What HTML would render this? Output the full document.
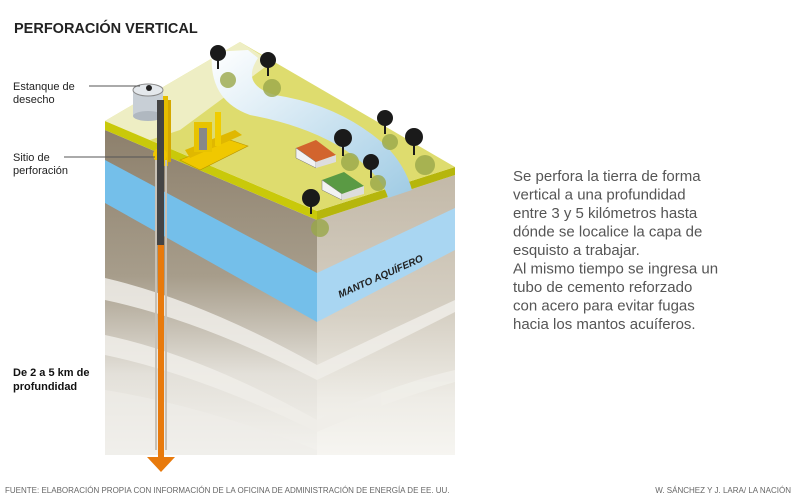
<!DOCTYPE html>
<html><head><meta charset="utf-8"><style>
body{margin:0;background:#fff;}
svg{display:block;font-family:"Liberation Sans",sans-serif;}
</style></head><body>
<svg width="797" height="504" viewBox="0 0 797 504" xmlns="http://www.w3.org/2000/svg">
<defs>
<linearGradient id="lf" x1="0" y1="0" x2="0" y2="1">
<stop offset="0" stop-color="#8d806c"/><stop offset="0.45" stop-color="#a79d8b"/><stop offset="0.75" stop-color="#e3e0d9"/><stop offset="1" stop-color="#f3f2ee"/></linearGradient>
<linearGradient id="rf" x1="0" y1="0" x2="0" y2="1">
<stop offset="0" stop-color="#c3b9a8"/><stop offset="0.5" stop-color="#d6d0c4"/><stop offset="0.8" stop-color="#eeece6"/><stop offset="1" stop-color="#f6f5f1"/></linearGradient>
<linearGradient id="riv" x1="0" y1="0" x2="1" y2="1">
<stop offset="0" stop-color="#ffffff"/><stop offset="1" stop-color="#9fcbe4"/></linearGradient>
</defs>
<text x="14" y="33" font-size="14.5" font-weight="bold" fill="#222">PERFORACIÓN VERTICAL</text>
<polygon points="105,130 317,220 317,455 105,455" fill="url(#lf)"/>
<polygon points="317,220 455,175 455,455 317,455" fill="url(#rf)"/>
<g fill="#f0eee9" opacity="0.85">
<path d="M105,278 Q200,300 317,365 L317,380 Q200,320 105,300Z"/>
<path d="M105,335 Q200,355 317,420 L317,432 Q200,375 105,355Z"/>
<path d="M105,390 Q200,405 317,450 L317,455 L105,455Z" opacity="0.7"/>
<path d="M317,365 Q390,330 455,300 L455,312 Q390,345 317,380Z"/>
<path d="M317,420 Q390,385 455,370 L455,382 Q390,400 317,432Z"/>
</g>
<polygon points="105,160 317,273 317,322 105,203" fill="#74bfea"/>
<polygon points="317,273 455,208 455,250 317,322" fill="#a9d6f2"/>
<text x="0" y="0" font-size="10" font-weight="bold" font-style="italic" fill="#222" transform="translate(340,298) rotate(-24)">MANTO AQUÍFERO</text>
<polygon points="105,121 317,211 317,220 105,130" fill="#c9c90a"/>
<polygon points="317,211 455,167 455,175 317,220" fill="#b6b60c"/>
<polygon points="105,121 240,42 455,167 317,211" fill="#dedc6e"/>
<polygon points="105,121 240,42 272,62 180,130 150,140" fill="#eeeec4"/>
<path d="M212,52 Q208,100 250,115 Q330,130 370,170 Q385,185 388,198 L412,190 Q405,165 385,145 Q340,105 275,95 Q240,85 258,58 L248,50Z" fill="url(#riv)"/>
<g fill="#9aa84a" opacity="0.8">
<circle cx="228" cy="80" r="8"/><circle cx="272" cy="88" r="9"/><circle cx="390" cy="142" r="8"/>
<circle cx="425" cy="165" r="10"/><circle cx="350" cy="162" r="9"/><circle cx="378" cy="183" r="8"/><circle cx="320" cy="228" r="9"/>
</g>
<g fill="#1a1a1a">
<circle cx="218" cy="53" r="8"/><rect x="217" y="55" width="2" height="14"/>
<circle cx="268" cy="60" r="8"/><rect x="267" y="62" width="2" height="14"/>
<circle cx="385" cy="118" r="8"/><rect x="384" y="120" width="2" height="14"/>
<circle cx="414" cy="137" r="9"/><rect x="413" y="139" width="2" height="16"/>
<circle cx="343" cy="138" r="9"/><rect x="342" y="140" width="2" height="16"/>
<circle cx="371" cy="162" r="8"/><rect x="370" y="164" width="2" height="14"/>
<circle cx="311" cy="198" r="9"/><rect x="310" y="200" width="2" height="14"/>
</g>
<polygon points="296,148 316,140 336,155 316,162" fill="#d2642d"/>
<polygon points="296,148 316,162 316,168 296,158" fill="#f2f2f2" stroke="#777" stroke-width="0.5"/>
<polygon points="316,162 336,155 336,162 316,168" fill="#ddd"/>
<polygon points="322,180 344,172 364,186 342,194" fill="#5a9a44"/>
<polygon points="322,180 342,194 342,200 322,190" fill="#f2f2f2" stroke="#777" stroke-width="0.5"/>
<polygon points="342,194 364,186 364,194 342,200" fill="#ddd"/>
<rect x="133" y="90" width="30" height="26" fill="#c8cfd6"/>
<ellipse cx="148" cy="90" rx="15" ry="6" fill="#e4e8ec" stroke="#888"/>
<ellipse cx="148" cy="116" rx="15" ry="5" fill="#b0b8c0"/>
<circle cx="149" cy="88" r="3" fill="#222"/>
<polygon points="180,160 230,140 248,146 200,170" fill="#f0c800" stroke="#b99500" stroke-width="0.6"/>
<polygon points="185,150 235,130 242,135 190,158" fill="#e0b800"/>
<rect x="194" y="122" width="18" height="30" fill="#e8c300"/>
<rect x="199" y="128" width="8" height="22" fill="#888"/>
<rect x="215" y="112" width="6" height="34" fill="#f0cc00"/>
<rect x="163" y="96" width="5" height="70" fill="#e5bd00"/>
<rect x="168" y="100" width="3" height="62" fill="#d4a800"/>
<circle cx="160" cy="155" r="7" fill="#f0c400"/>
<circle cx="161" cy="156" r="3" fill="#222"/>
<rect x="157" y="100" width="7" height="145" fill="#444"/>
<rect x="155" y="160" width="2" height="290" fill="#c7c0b5"/>
<rect x="165" y="160" width="2" height="290" fill="#c7c0b5"/>
<rect x="158" y="245" width="6" height="213" fill="#e87a0c"/>
<polygon points="147,457 175,457 161,472" fill="#e87a0c"/>
<line x1="89" y1="86" x2="140" y2="86" stroke="#555" stroke-width="1"/>
<line x1="64" y1="157" x2="155" y2="157" stroke="#555" stroke-width="1"/>
<g font-size="11" fill="#222">
<text x="13" y="90">Estanque de</text><text x="13" y="103">desecho</text>
<text x="13" y="161">Sitio de</text><text x="13" y="174">perforación</text>
</g>
<g font-size="11" font-weight="bold" fill="#111">
<text x="13" y="376">De 2 a 5 km de</text><text x="13" y="390">profundidad</text>
</g>
<g font-size="15" fill="#555">
<text x="513" y="181">Se perfora la tierra de forma</text>
<text x="513" y="199.5">vertical a una profundidad</text>
<text x="513" y="218">entre 3 y 5 kilómetros hasta</text>
<text x="513" y="236.5">dónde se localice la capa de</text>
<text x="513" y="255">esquisto a trabajar.</text>
<text x="513" y="273.5">Al mismo tiempo se ingresa un</text>
<text x="513" y="292">tubo de cemento reforzado</text>
<text x="513" y="310.5">con acero para evitar fugas</text>
<text x="513" y="329">hacia los mantos acuíferos.</text>
</g>
<g font-size="8" fill="#666">
<text x="5" y="493">FUENTE: ELABORACIÓN PROPIA CON INFORMACIÓN DE LA OFICINA DE ADMINISTRACIÓN DE ENERGÍA DE EE. UU.</text>
<text x="791" y="493" text-anchor="end">W. SÁNCHEZ Y J. LARA/ LA NACIÓN</text>
</g>
</svg>
</body></html>
